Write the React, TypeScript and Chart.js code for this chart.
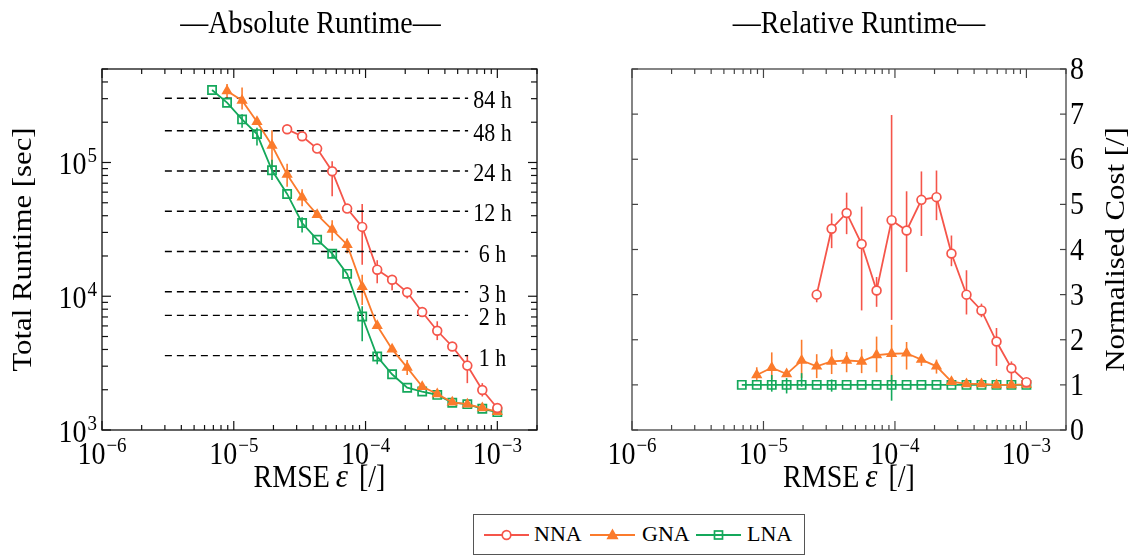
import React, { useEffect, useRef } from "react";
import { Chart, registerables } from "chart.js";

Chart.register(...registerables);

// ---------------- data ----------------
const RMSE = [
  6.84e-6, 8.89e-6, 1.156e-5, 1.5e-5, 1.95e-5, 2.54e-5, 3.3e-5, 4.29e-5, 5.58e-5, 7.25e-5,
  9.43e-5, 1.226e-4, 1.59e-4, 2.07e-4, 2.69e-4, 3.5e-4, 4.55e-4, 5.92e-4, 7.69e-4, 1.0e-3,
];
const RMSE_NNA = RMSE.slice(5);
const RMSE_GNA = RMSE.slice(1);
const RMSE_LNA = RMSE;

const NNA_ABS = [1.77e5, 1.57e5, 1.27e5, 8.6e4, 4.52e4, 3.3e4, 1.58e4, 1.33e4, 1.07e4, 7.62e3, 5.52e3, 4.21e3, 3.03e3, 1.99e3, 1.46e3];
const NNA_ABS_LO = [null, null, null, 5.6e4, null, 1.72e4, 1.25e4, 1.11e4, 9.6e3, null, 4.7e3, null, 2.24e3, 1.78e3, null];
const NNA_ABS_HI = [null, null, null, 1.02e5, null, 4.9e4, 1.86e4, 1.43e4, 1.12e4, null, 6.5e3, null, 3.65e3, 2.24e3, null];

const GNA_ABS = [3.43e5, 2.91e5, 2.02e5, 1.34e5, 8.12e4, 5.5e4, 4.07e4, 3.15e4, 2.43e4, 1.18e4, 6.01e3, 4.02e3, 2.93e3, 2.11e3, 1.86e3, 1.61e3, 1.56e3, 1.46e3, 1.37e3];
const GNA_ABS_LO = [3.03e5, 2.49e5, null, 9.4e4, 6.6e4, 4.7e4, null, 2.6e4, 2.1e4, 8.6e3, null, null, 2.58e3, null, 1.78e3, null, null, null, null];
const GNA_ABS_HI = [3.87e5, 3.63e5, null, 1.74e5, 9.8e4, 6.3e4, null, 3.7e4, 2.7e4, 1.45e4, null, null, 3.34e3, null, 1.95e3, null, null, null, null];

const LNA_ABS = [3.48e5, 2.8e5, 2.1e5, 1.63e5, 8.75e4, 5.82e4, 3.53e4, 2.65e4, 2.08e4, 1.47e4, 7.06e3, 3.54e3, 2.61e3, 2.07e3, 1.94e3, 1.83e3, 1.6e3, 1.56e3, 1.44e3, 1.36e3];
const LNA_ABS_LO = [null, null, 1.82e5, 1.34e5, 7.4e4, null, 3.0e4, null, 1.95e4, null, 4.6e3, 3.1e3, null, null, null, null, null, null, null, null];
const LNA_ABS_HI = [null, null, 2.29e5, 1.82e5, 1.05e5, null, 3.9e4, null, 2.2e4, null, 8.4e3, 3.8e3, null, null, null, null, null, null, null, null];

const NNA_REL = [3.0, 4.46, 4.81, 4.12, 3.09, 4.65, 4.42, 5.1, 5.16, 3.91, 3.0, 2.65, 1.96, 1.37, 1.06];
const NNA_REL_LO = [2.83, 4.03, 4.34, 2.65, 2.73, 2.44, 3.5, 4.3, 4.65, 3.63, 2.56, 2.5, 1.42, 1.11, 1.02];
const NNA_REL_HI = [3.11, 4.8, 5.26, 4.95, 3.39, 6.98, 5.29, 5.73, 5.75, 4.31, 3.54, 2.8, 2.26, 1.52, 1.1];

const GNA_REL = [1.22, 1.38, 1.24, 1.54, 1.41, 1.52, 1.54, 1.52, 1.66, 1.69, 1.7, 1.56, 1.41, 1.07, 1.02, 1.02, 1.0, 1.0, 1.01];
const GNA_REL_LO = [1.11, 1.12, 1.18, 1.15, 1.15, 1.24, 1.28, 1.26, 1.28, 1.0, 1.34, 1.42, 1.25, 1.03, 1.0, 0.99, 0.98, 0.98, 0.99];
const GNA_REL_HI = [1.39, 1.72, 1.3, 2.0, 1.68, 1.79, 1.73, 1.79, 2.07, 2.33, 1.95, 1.68, 1.56, 1.11, 1.05, 1.06, 1.02, 1.02, 1.03];

const LNA_REL = [1, 1, 1, 1, 1, 1, 1, 1, 1, 1, 1, 1, 1, 1, 1, 1, 1, 1, 1, 1];
const LNA_REL_LO = [null, null, 0.85, 0.81, 0.96, null, 0.85, null, null, null, 0.65, null, null, null, null, null, null, null, null, null];
const LNA_REL_HI = [null, null, 1.22, 1.15, 1.26, null, 1.12, null, null, null, 1.22, null, null, null, null, null, null, null, null, null];

const HOURS = [84, 48, 24, 12, 6, 3, 2, 1];
const HOUR_LINE_X = [3e-6, 6e-4];
const HOUR_LABEL_X = 9.2e-4;

const X_MIN = 1e-6;
const X_MAX = 2e-3;
const YABS_MIN = 1e3;
const YABS_MAX = 5e5;
const YREL_MIN = 0;
const YREL_MAX = 8;
const YREL_TICKS = [0, 1, 2, 3, 4, 5, 6, 7, 8];

// ---------------- styles ----------------
const RED = "#f5554a";
const ORANGE = "#fb7b2c";
const GREEN = "#14a85b";
const FONT = '"Liberation Serif", "Times New Roman", Times, serif';
const SY = 1.1; // glyph height stretch of the reference rendering

function logTicks(min: number, max: number) {
  const out: { v: number; major: boolean; exp: number }[] = [];
  for (let d = Math.floor(Math.log10(min)); d <= Math.ceil(Math.log10(max)); d++) {
    for (let m = 1; m <= 9; m++) {
      const v = m * Math.pow(10, d);
      if (v >= min * 0.999 && v <= max * 1.001) out.push({ v, major: m === 1, exp: d });
    }
  }
  return out;
}

function text(ctx: CanvasRenderingContext2D, s: string, x: number, y: number) {
  ctx.save();
  ctx.translate(x, y);
  ctx.scale(1, SY);
  ctx.fillText(s, 0, 0);
  ctx.restore();
}

function drawPow(ctx: CanvasRenderingContext2D, x: number, y: number, exp: number, align: "center" | "right") {
  const base = `28px ${FONT}`;
  const sup = `19px ${FONT}`;
  ctx.font = base;
  const wb = ctx.measureText("10").width;
  const es = exp < 0 ? "\u2212" + Math.abs(exp) : String(exp);
  ctx.font = sup;
  const we = ctx.measureText(es).width;
  const total = wb + 1 + we;
  const x0 = align === "center" ? x - total / 2 : x - total;
  ctx.textAlign = "left";
  ctx.textBaseline = "alphabetic";
  ctx.font = base;
  text(ctx, "10", x0, y);
  ctx.font = sup;
  text(ctx, es, x0 + wb + 1, y - 12);
}

function line(ctx: CanvasRenderingContext2D, x1: number, y1: number, x2: number, y2: number) {
  ctx.beginPath();
  ctx.moveTo(x1, y1);
  ctx.lineTo(x2, y2);
  ctx.stroke();
}

const errorBarPlugin = {
  id: "errorbars",
  beforeDatasetsDraw(chart: any) {
    const ctx = chart.ctx;
    const a = chart.chartArea;
    const ys = chart.scales.y;
    ctx.save();
    ctx.beginPath();
    ctx.rect(a.left, a.top, a.right - a.left, a.bottom - a.top);
    ctx.clip();
    chart.data.datasets.forEach((ds: any, i: number) => {
      if (!ds.errLo) return;
      const meta = chart.getDatasetMeta(i);
      ctx.strokeStyle = ds.borderColor;
      ctx.lineWidth = 1.6;
      meta.data.forEach((pt: any, j: number) => {
        const lo = ds.errLo[j];
        const hi = ds.errHi[j];
        if (lo == null || hi == null) return;
        line(ctx, pt.x, ys.getPixelForValue(lo), pt.x, ys.getPixelForValue(hi));
      });
    });
    ctx.restore();
  },
};

function decorPlugin(o: {
  frame: string;
  title: string;
  titleShift: number;
  yLabel: string;
  yLabelX: number;
  yKind: "log" | "lin";
  hours: boolean;
}) {
  return {
    id: "decor",
    afterDraw(chart: any) {
      const ctx: CanvasRenderingContext2D = chart.ctx;
      const a = chart.chartArea;
      const xs = chart.scales.x;
      const ys = chart.scales.y;
      ctx.save();
      ctx.fillStyle = "#000";

      if (o.hours) {
        ctx.font = `22px ${FONT}`;
        ctx.textAlign = "center";
        ctx.textBaseline = "alphabetic";
        const lx = xs.getPixelForValue(HOUR_LABEL_X);
        HOURS.forEach((h) => {
          const py = ys.getPixelForValue(h * 3600);
          text(ctx, `${h} h`, lx, py + 10);
        });
      }

      // frame
      ctx.strokeStyle = o.frame;
      ctx.lineWidth = 1.3;
      ctx.strokeRect(a.left, a.top, a.right - a.left, a.bottom - a.top);

      // x ticks (bottom + top, inward)
      ctx.lineWidth = 1.2;
      for (const t of logTicks(X_MIN, X_MAX)) {
        const px = xs.getPixelForValue(t.v);
        const L = t.major ? 9 : 5;
        line(ctx, px, a.bottom, px, a.bottom - L);
        line(ctx, px, a.top, px, a.top + L);
        if (t.major) drawPow(ctx, px, a.bottom + 34, t.exp, "center");
      }

      // y ticks
      if (o.yKind === "log") {
        for (const t of logTicks(YABS_MIN, YABS_MAX)) {
          const py = ys.getPixelForValue(t.v);
          const L = t.major ? 9 : 6;
          line(ctx, a.left, py, a.left + L, py);
          line(ctx, a.right, py, a.right - L, py);
          if (t.major) drawPow(ctx, a.left - 5, py + 12, t.exp, "right");
        }
      } else {
        ctx.font = `28px ${FONT}`;
        ctx.textAlign = "left";
        ctx.textBaseline = "alphabetic";
        for (const v of YREL_TICKS) {
          const py = ys.getPixelForValue(v);
          line(ctx, a.left, py, a.left + 6, py);
          line(ctx, a.right, py, a.right - 6, py);
          text(ctx, String(v), a.right + 4, py + 10);
        }
      }

      const cx = (a.left + a.right) / 2;
      // title
      ctx.font = `28px ${FONT}`;
      ctx.textAlign = "center";
      ctx.textBaseline = "alphabetic";
      text(ctx, o.title, cx + o.titleShift, 33);

      // x label: RMSE ε [/]
      const p1 = "RMSE";
      const p2 = "\u03b5";
      const p3 = "[/]";
      const g1 = 6;
      const g2 = 11;
      ctx.font = `28px ${FONT}`;
      const w1 = ctx.measureText(p1).width;
      const w3 = ctx.measureText(p3).width;
      ctx.font = `italic 31px ${FONT}`;
      const w2 = ctx.measureText(p2).width;
      const x0 = cx - (w1 + g1 + w2 + g2 + w3) / 2;
      const by = a.bottom + 57;
      ctx.textAlign = "left";
      ctx.font = `28px ${FONT}`;
      text(ctx, p1, x0, by);
      ctx.font = `italic 31px ${FONT}`;
      text(ctx, p2, x0 + w1 + g1, by);
      ctx.font = `28px ${FONT}`;
      text(ctx, p3, x0 + w1 + g1 + w2 + g2, by);

      // y label
      ctx.save();
      ctx.translate(o.yLabelX, (a.top + a.bottom) / 2);
      ctx.rotate(-Math.PI / 2);
      ctx.scale(SY, 1);
      ctx.textAlign = "center";
      ctx.textBaseline = "middle";
      ctx.font = `28px ${FONT}`;
      ctx.fillText(o.yLabel, 0, 0);
      ctx.restore();

      ctx.restore();
    },
  };
}

function series(label: string, xs: number[], ys: number[], lo: any[], hi: any[], color: string, kind: string, order: number) {
  const style: any =
    kind === "circle"
      ? { pointStyle: "circle", pointRadius: 4.4, pointBackgroundColor: "#fff" }
      : kind === "triangle"
      ? { pointStyle: "triangle", pointRadius: 4.8, pointBackgroundColor: color }
      : { pointStyle: "rect", pointRadius: 5.8, pointBackgroundColor: "rgba(255,255,255,0)" };
  return {
    label,
    data: xs.map((x, i) => ({ x, y: ys[i] })),
    errLo: lo,
    errHi: hi,
    borderColor: color,
    pointBorderColor: color,
    pointBorderWidth: 1.7,
    borderWidth: 1.8,
    tension: 0,
    order,
    ...style,
  };
}

function baseOptions(yType: string, yMin: number, yMax: number, pad: any) {
  return {
    responsive: false,
    maintainAspectRatio: false,
    animation: false as const,
    devicePixelRatio: 1,
    layout: { padding: pad },
    plugins: { legend: { display: false }, tooltip: { enabled: false }, title: { display: false } },
    scales: {
      x: { type: "logarithmic", min: X_MIN, max: X_MAX, display: false },
      y: { type: yType, min: yMin, max: yMax, display: false },
    },
  };
}

function AbsChart() {
  const ref = useRef<HTMLCanvasElement>(null);
  useEffect(() => {
    const hourSets = HOURS.map((h) => ({
      label: `${h} h`,
      data: HOUR_LINE_X.map((x) => ({ x, y: h * 3600 })),
      borderColor: "#000",
      borderWidth: 1.4,
      borderDash: [7, 5],
      pointRadius: 0,
      order: 5,
    }));
    const chart = new Chart(ref.current!, {
      type: "line",
      data: {
        datasets: [
          series("NNA", RMSE_NNA, NNA_ABS, NNA_ABS_LO, NNA_ABS_HI, RED, "circle", 0),
          series("GNA", RMSE_GNA, GNA_ABS, GNA_ABS_LO, GNA_ABS_HI, ORANGE, "triangle", 1),
          series("LNA", RMSE_LNA, LNA_ABS, LNA_ABS_LO, LNA_ABS_HI, GREEN, "rect", 2),
          ...hourSets,
        ] as any,
      },
      options: baseOptions("logarithmic", YABS_MIN, YABS_MAX, { left: 102, right: 33, top: 69, bottom: 126 }) as any,
      plugins: [
        errorBarPlugin,
        decorPlugin({ frame: "#111", title: "\u2014Absolute Runtime\u2014", titleShift: -9, yLabel: "Total Runtime [sec]", yLabelX: 24, yKind: "log", hours: true }),
      ],
    });
    return () => chart.destroy();
  }, []);
  return <canvas ref={ref} width={570} height={556} style={{ position: "absolute", left: 0, top: 0, width: 570, height: 556 }} />;
}

function RelChart() {
  const ref = useRef<HTMLCanvasElement>(null);
  useEffect(() => {
    const chart = new Chart(ref.current!, {
      type: "line",
      data: {
        datasets: [
          series("NNA", RMSE_NNA, NNA_REL, NNA_REL_LO, NNA_REL_HI, RED, "circle", 0),
          series("GNA", RMSE_GNA, GNA_REL, GNA_REL_LO, GNA_REL_HI, ORANGE, "triangle", 1),
          series("LNA", RMSE_LNA, LNA_REL, LNA_REL_LO, LNA_REL_HI, GREEN, "rect", 2),
        ] as any,
      },
      options: baseOptions("linear", YREL_MIN, YREL_MAX, { left: 62, right: 64, top: 69, bottom: 126 }) as any,
      plugins: [
        errorBarPlugin,
        decorPlugin({ frame: "#444", title: "\u2014Relative Runtime\u2014", titleShift: 10, yLabel: "Normalised Cost [/]", yLabelX: 547, yKind: "lin", hours: false }),
      ],
    });
    return () => chart.destroy();
  }, []);
  return <canvas ref={ref} width={560} height={556} style={{ position: "absolute", left: 570, top: 0, width: 560, height: 556 }} />;
}

function LegendIcon({ color, kind }: { color: string; kind: string }) {
  return (
    <svg width={45} height={16} style={{ position: "absolute", top: 12 }}>
      <line x1={0} y1={8} x2={45} y2={8} stroke={color} strokeWidth={1.8} />
      {kind === "circle" && <circle cx={22.5} cy={8} r={4.3} fill="#fff" stroke={color} strokeWidth={1.7} />}
      {kind === "triangle" && <polygon points="22.5,3 27.3,11.5 17.7,11.5" fill={color} stroke={color} strokeWidth={1.5} />}
      {kind === "rect" && <rect x={18.5} y={4} width={8} height={8} fill="none" stroke={color} strokeWidth={1.7} />}
    </svg>
  );
}

function Legend() {
  const items = [
    { label: "NNA", color: RED, kind: "circle", icon: 10, text: 60 },
    { label: "GNA", color: ORANGE, kind: "triangle", icon: 116, text: 168 },
    { label: "LNA", color: GREEN, kind: "rect", icon: 222, text: 273 },
  ];
  return (
    <div
      style={{
        position: "absolute",
        left: 473,
        top: 514,
        width: 332,
        height: 41,
        boxSizing: "border-box",
        border: "1px solid #555",
        background: "#fff",
        fontFamily: FONT,
        fontSize: 22,
      }}
    >
      {items.map((it) => (
        <React.Fragment key={it.label}>
          <div style={{ position: "absolute", left: it.icon, top: 0 }}>
            <LegendIcon color={it.color} kind={it.kind} />
          </div>
          <div style={{ position: "absolute", left: it.text, top: 6, lineHeight: "26px", color: "#000" }}>{it.label}</div>
        </React.Fragment>
      ))}
    </div>
  );
}

export default function App() {
  return (
    <div style={{ position: "absolute", left: 0, top: 0, width: 1130, height: 556, background: "#fff", overflow: "hidden" }}>
      <AbsChart />
      <RelChart />
      <Legend />
    </div>
  );
}
